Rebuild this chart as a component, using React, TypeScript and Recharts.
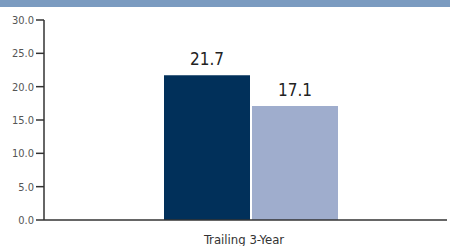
import { BarChart, Bar, XAxis, YAxis, LabelList } from "recharts";

const categories = ["Trailing 3-Year"];
const fundValues = [21.7];
const benchmarkValues = [17.1];
const yTicks = [0, 5, 10, 15, 20, 25, 30];

const data = categories.map((name, i) => ({
  name,
  fund: fundValues[i],
  benchmark: benchmarkValues[i],
}));

const font = "'DejaVu Sans Condensed', 'Liberation Sans Narrow', Arial, sans-serif";

export default function App() {
  return (
    <div style={{ position: "absolute", left: 0, top: 0, width: 450, height: 246, background: "#fff" }}>
      <div style={{ position: "absolute", left: 0, top: 0, width: 450, height: 7, background: "#7b9bc0" }} />
      <BarChart
        width={450}
        height={246}
        data={data}
        margin={{ top: 20, right: 3, left: 0, bottom: 0 }}
        barSize={86}
        barGap={2}
        style={{ fontFamily: font }}
      >
        <XAxis
          dataKey="name"
          height={26}
          padding={{ left: 11, right: 0 }}
          tickLine={false}
          tickMargin={9}
          axisLine={{ stroke: "#333", strokeWidth: 1.5 }}
          tick={{ fill: "#333", fontSize: 13, fontFamily: font, dx: -7 }}
        />
        <YAxis
          width={44}
          domain={[0, 30]}
          ticks={yTicks}
          interval={0}
          tickFormatter={(v: number) => v.toFixed(1)}
          tickSize={8}
          tickMargin={2}
          axisLine={{ stroke: "#333", strokeWidth: 1.5 }}
          tickLine={{ stroke: "#333", strokeWidth: 1.5 }}
          tick={{ fill: "#555", fontSize: 11, fontFamily: font }}
        />
        <Bar dataKey="fund" fill="#01305a" isAnimationActive={false}>
          <LabelList
            dataKey="fund"
            position="top"
            offset={10}
            formatter={(v: number) => v.toFixed(1)}
            style={{ fill: "#222", fontSize: 17, fontFamily: font }}
          />
        </Bar>
        <Bar dataKey="benchmark" fill="#9fadcd" isAnimationActive={false}>
          <LabelList
            dataKey="benchmark"
            position="top"
            offset={10}
            formatter={(v: number) => v.toFixed(1)}
            style={{ fill: "#222", fontSize: 17, fontFamily: font }}
          />
        </Bar>
      </BarChart>
    </div>
  );
}
